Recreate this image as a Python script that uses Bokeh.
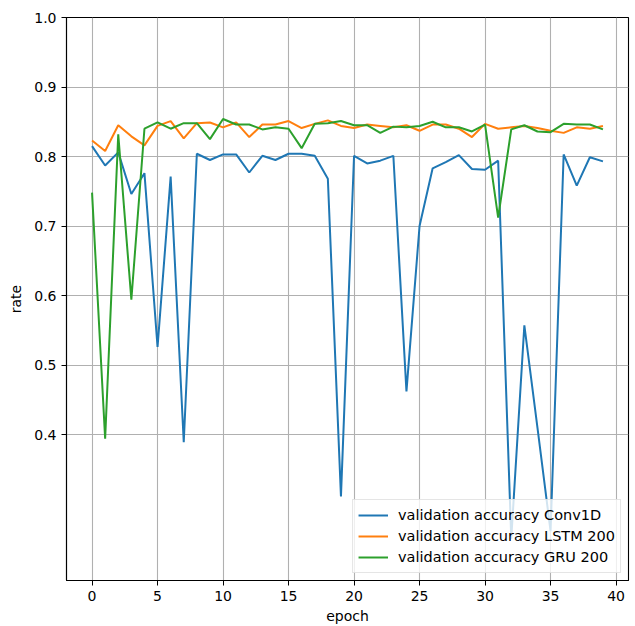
from bokeh.plotting import figure
from bokeh.models import Range1d, FixedTicker, PrintfTickFormatter, Legend, LegendItem
from bokeh.embed import file_html
from bokeh.resources import INLINE

epochs = list(range(40))
conv1d = [0.815, 0.787, 0.806, 0.746, 0.776, 0.526, 0.771, 0.389, 0.804, 0.795,
          0.803, 0.803, 0.777, 0.801, 0.795, 0.804, 0.804, 0.801, 0.768, 0.311,
          0.801, 0.790, 0.794, 0.801, 0.462, 0.700, 0.783, 0.792, 0.802, 0.782,
          0.781, 0.794, 0.250, 0.557, 0.410, 0.261, 0.803, 0.758, 0.799, 0.793]
lstm200 = [0.823, 0.808, 0.845, 0.829, 0.816, 0.844, 0.851, 0.826, 0.848, 0.849,
           0.842, 0.849, 0.828, 0.846, 0.846, 0.851, 0.841, 0.847, 0.852, 0.844,
           0.841, 0.846, 0.844, 0.842, 0.845, 0.837, 0.846, 0.846, 0.840, 0.828,
           0.847, 0.840, 0.842, 0.844, 0.841, 0.837, 0.834, 0.842, 0.840, 0.844]
gru200 = [0.748, 0.394, 0.832, 0.594, 0.840, 0.849, 0.840, 0.848, 0.848, 0.825,
          0.854, 0.846, 0.846, 0.839, 0.842, 0.840, 0.812, 0.847, 0.848, 0.851,
          0.845, 0.845, 0.834, 0.843, 0.842, 0.844, 0.850, 0.842, 0.842, 0.836,
          0.846, 0.712, 0.839, 0.845, 0.836, 0.835, 0.847, 0.846, 0.846, 0.839]
labels = ["validation accuracy Conv1D", "validation accuracy LSTM 200", "validation accuracy GRU 200"]
colors = ["#1f77b4", "#ff7f0e", "#2ca02c"]
x_ticks = [0, 5, 10, 15, 20, 25, 30, 35, 40]
y_ticks = [0.4, 0.5, 0.6, 0.7, 0.8, 0.9, 1.0]

FONT = "DejaVu Sans"
FS = "14px"

p = figure(width=635, height=626, output_backend="svg", toolbar_location=None,
           x_range=Range1d(-1.95, 40.95), y_range=Range1d(0.19, 1.0),
           min_border_left=66, min_border_right=7, min_border_top=17, min_border_bottom=46)
p.background_fill_color = "white"
p.border_fill_color = "white"
p.outline_line_color = "black"
p.outline_line_width = 1.1

renderers = []
for ys, c in zip([conv1d, lstm200, gru200], colors):
    r = p.line(epochs, ys, line_color=c, line_width=2)
    renderers.append(r)

p.xaxis.ticker = FixedTicker(ticks=x_ticks)
p.yaxis.ticker = FixedTicker(ticks=y_ticks)
p.yaxis.formatter = PrintfTickFormatter(format="%.1f")
p.xaxis.axis_label = "epoch"
p.yaxis.axis_label = "rate"
for ax in [p.xaxis, p.yaxis]:
    ax.axis_label_text_font = FONT
    ax.axis_label_text_font_size = FS
    ax.axis_label_text_font_style = "normal"
    ax.axis_label_text_color = "black"
    ax.major_label_text_font = FONT
    ax.major_label_text_font_size = FS
    ax.major_label_text_color = "black"
    ax.major_tick_in = 0
    ax.major_tick_out = 5
    ax.major_tick_line_color = "black"
    ax.minor_tick_line_color = None
    ax.axis_line_color = "black"
    ax.axis_line_width = 1.1
    ax.major_label_standoff = 5
p.xaxis.axis_label_standoff = 4
p.yaxis.axis_label_standoff = 7

p.grid.grid_line_color = "#b0b0b0"
p.grid.grid_line_width = 1.1

legend = Legend(items=[LegendItem(label=l, renderers=[r]) for l, r in zip(labels, renderers)],
                location="bottom_right")
legend.label_text_font = FONT
legend.label_text_font_size = "14.5px"
legend.label_text_color = "black"
legend.border_line_color = "#cccccc"
legend.background_fill_alpha = 0.8
legend.margin = 7
legend.padding = 5
legend.spacing = 1
legend.label_height = 20
legend.glyph_height = 20
legend.glyph_width = 30
legend.label_standoff = 10
p.add_layout(legend)

open("out.html", "w").write(file_html(p, INLINE))
